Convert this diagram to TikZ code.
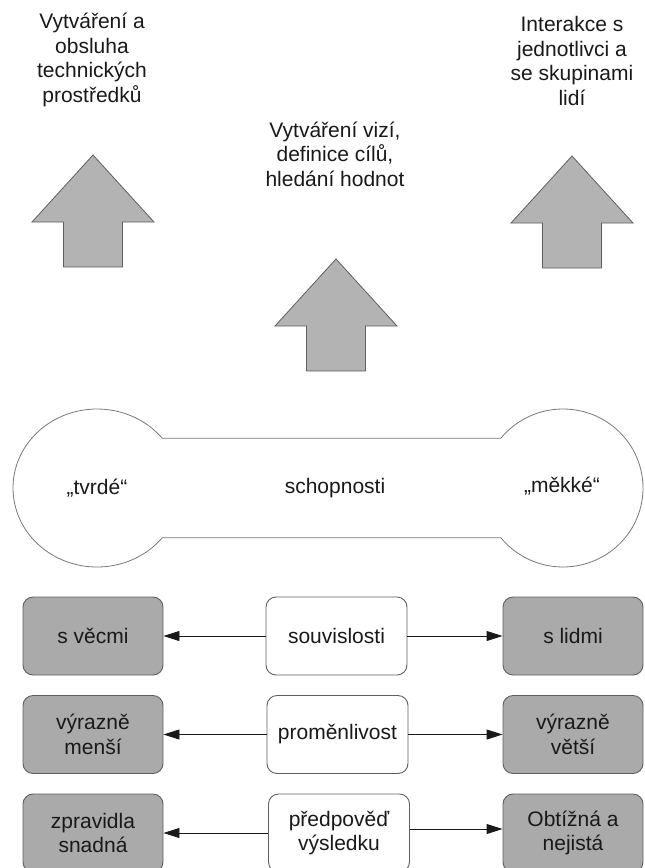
\documentclass[tikz,border=0pt]{standalone}
\usepackage{fontspec}
\setmainfont{Liberation Sans}
\usetikzlibrary{arrows.meta,calc}
\definecolor{arrowgray}{RGB}{179,179,179}
\definecolor{boxgray}{RGB}{170,170,170}
\definecolor{edgegray}{RGB}{95,95,95}
\definecolor{linegray}{RGB}{120,120,120}
\definecolor{ink}{RGB}{25,25,25}
\begin{document}
\begin{tikzpicture}[
  x=1pt, y=-1pt,
  every node/.style={font=\fontsize{21}{24.5}\selectfont, text=ink, inner sep=0pt},
  lbl/.style={align=center},
  blockarrow/.style={fill=arrowgray, draw=edgegray, line width=0.8pt, line join=miter},
  bell/.style={draw=linegray, line width=0.8pt, fill=white},
  sidebox/.style={draw=edgegray, fill=boxgray, rounded corners=10pt, line width=0.9pt,
    minimum width=140pt, minimum height=78pt, align=center},
  midbox/.style={draw=edgegray, fill=white, rounded corners=10pt, line width=0.9pt,
    minimum width=141pt, minimum height=78pt, align=center},
  link/.style={draw=ink, line width=0.9pt, -{Triangle[length=16pt, width=10pt]}},
  uparrow/.pic={
    \filldraw[blockarrow] (0,0) -- (61,67) -- (29.5,67) -- (29.5,112)
      -- (-29.5,112) -- (-29.5,67) -- (-61,67) -- cycle;
  }
]
\useasboundingbox (0,0) rectangle (645,868);

% three headings with their block arrows
\node[lbl] (tech) at (92,60) {Vytváření a\\obsluha\\technických\\prostředků};
\node[lbl] (vize) at (335,154) {Vytváření vizí,\\definice cílů,\\hledání hodnot};
\node[lbl] (lide) at (572,61) {Interakce s\\jednotlivci a\\se skupinami\\lidí};

\pic at (93,155) {uparrow};
\pic at (336,259) {uparrow};
\pic at (572,156) {uparrow};

% dumbbell: two round ends joined by a bar
\draw[bell] ($(97,488)+(-39:84 and 79)$) -- ($(563,488)+(219:80 and 79)$)
  arc[start angle=219, end angle=501, x radius=80, y radius=79]
  -- ($(97,488)+(39:84 and 79)$)
  arc[start angle=39, end angle=321, x radius=84, y radius=79] -- cycle;
\node (tvrde) at (97,488) {„tvrdé“};
\node (schop) at (335,488) {schopnosti};
\node (mekke) at (562,486) {„měkké“};

% comparison rows
\node[sidebox] (l1) at (93,636) {s věcmi};
\node[midbox]  (m1) at (336.5,636) {souvislosti};
\node[sidebox] (r1) at (573,636) {s lidmi};

\node[sidebox] (l2) at (93,734.5) {výrazně\\menší};
\node[midbox]  (m2) at (337.5,734.5) {proměnlivost};
\node[sidebox] (r2) at (573,734.5) {výrazně\\větší};

\node[sidebox] (l3) at (93,833) {zpravidla\\snadná};
\node[midbox]  (m3) at (339,833) {předpověď\\výsledku};
\node[sidebox] (r3) at (573,833) {Obtížná a\\nejistá};

\draw[link] (m1.west) -- (l1.east);
\draw[link] (m1.east) -- (r1.west);
\draw[link] (m2.west) -- (l2.east);
\draw[link] (m2.east) -- (r2.west);
\draw[link] (m3.west) -- (l3.east);
\draw[link] ([yshift=4pt]m3.east) -- ([yshift=4pt]r3.west);
\end{tikzpicture}
\end{document}
